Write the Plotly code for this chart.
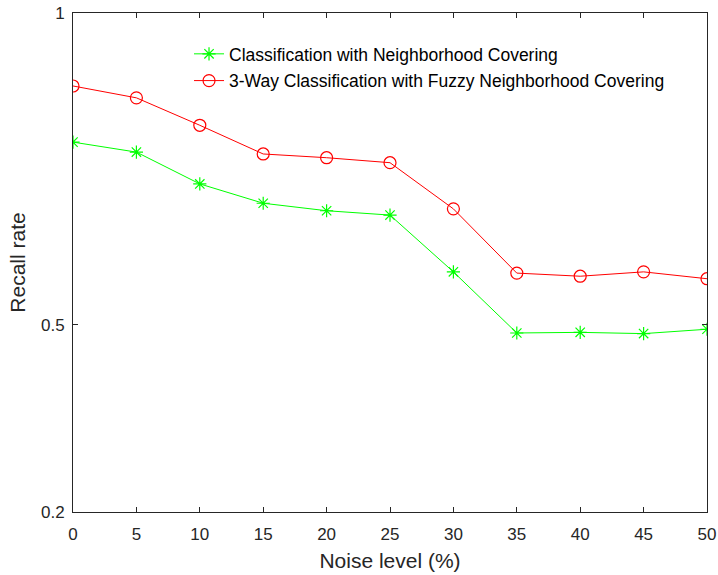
import plotly.graph_objects as go

noise = [0, 5, 10, 15, 20, 25, 30, 35, 40, 45, 50]
recall_nc = [0.793, 0.777, 0.726, 0.695, 0.683, 0.676, 0.585, 0.487, 0.488, 0.486, 0.493]
recall_3w = [0.883, 0.864, 0.820, 0.774, 0.768, 0.760, 0.686, 0.583, 0.578, 0.585, 0.574]
y_ticks = [0.2, 0.5, 1]
y_tick_labels = ["0.2", "0.5", "1"]

FONT = "Liberation Sans, Arial, sans-serif"

fig = go.Figure()
fig.add_trace(go.Scatter(
    x=noise, y=recall_nc, mode="lines+markers",
    name="Classification with Neighborhood Covering", legendgroup="a",
    line=dict(color="#00ff00", width=1),
    marker=dict(symbol="asterisk-open", size=11, color="#00ff00", line=dict(color="#00ff00", width=1.2)),
))
fig.add_trace(go.Scatter(
    x=noise, y=recall_3w, mode="lines+markers",
    name="3-Way Classification with Fuzzy Neighborhood Covering", legendgroup="b",
    line=dict(color="#ff0000", width=1),
    marker=dict(symbol="circle-open", size=12, color="#ff0000", line=dict(color="#ff0000", width=1.2)),
))

axis_common = dict(
    showgrid=False, zeroline=False, showline=True, linecolor="#262626", linewidth=1,
    mirror="ticks", ticks="inside", ticklen=5, tickcolor="#262626", automargin=False,
    tickfont=dict(family=FONT, size=17, color="#262626"),
)
fig.update_xaxes(range=[0, 50], tickvals=noise, ticklabelstandoff=7, **axis_common,
                 title=dict(text="Noise level (%)", font=dict(family=FONT, size=21, color="#262626"), standoff=9))
fig.update_yaxes(range=[0.2, 1], tickvals=y_ticks, ticktext=y_tick_labels, ticklabelstandoff=4, **axis_common,
                 title=dict(text="Recall rate", font=dict(family=FONT, size=21, color="#262626"), standoff=9))

fig.update_layout(
    width=718, height=575,
    margin=dict(l=73, r=11, t=13, b=63),
    plot_bgcolor="white", paper_bgcolor="white",
    legend=dict(x=0.183, y=0.954, xanchor="left", yanchor="top",
                bgcolor="rgba(0,0,0,0)", borderwidth=0,
                font=dict(family=FONT, size=17.5, color="#000000"),
                traceorder="grouped", tracegroupgap=1),
    showlegend=True,
)
fig.write_html("out.html", config={"displayModeBar": False},
               post_script="document.body.style.margin='0';")
